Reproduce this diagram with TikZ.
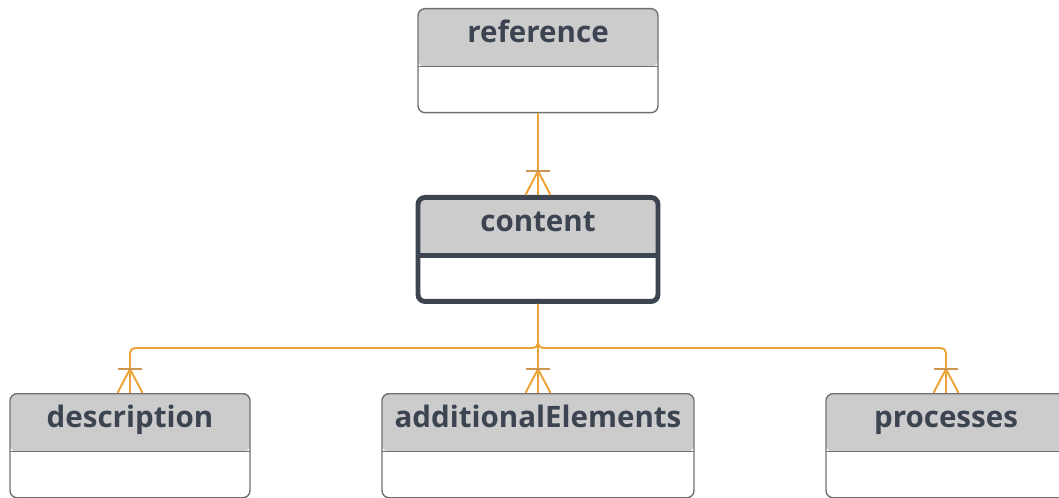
\documentclass[tikz,border=0pt]{standalone}
\usepackage{fontspec}
\setmainfont{Open Sans}
\usetikzlibrary{calc,positioning}
\definecolor{relorange}{RGB}{236,162,52}
\definecolor{barorange}{RGB}{205,150,80}
\definecolor{headgray}{RGB}{204,204,204}
\definecolor{edgegray}{RGB}{112,112,112}
\definecolor{inkslate}{RGB}{59,68,80}
\tikzset{
  sepline/.style={edgegray,line width=0.8pt},
  entity/.style={draw=edgegray, line width=0.8pt, fill=white, rounded corners=0.14cm,
    minimum width=4.8cm, inner sep=0pt, anchor=north,
    text height=0.68cm, text depth=1.4cm, text=inkslate,
    font=\bfseries\fontsize{16.8}{19}\selectfont,
    path picture={
      \fill[headgray] (path picture bounding box.north west) rectangle ([yshift=-1.16cm]path picture bounding box.north east);
      \draw[sepline] ([yshift=-1.16cm]path picture bounding box.north west) -- ([yshift=-1.16cm]path picture bounding box.north east);
    }},
  rel/.style={relorange, line width=1.1pt},
  crowfoot/.pic={
    \draw[rel] (-0.25,0) -- (0,0.48) -- (0.25,0);
    \draw[barorange, line width=1.1pt] (-0.24,0.48) -- (0.24,0.48);
  }
}
\begin{document}
\begin{tikzpicture}
\useasboundingbox (0,0) rectangle (21.18,-9.96);
% entities
\node[entity] (reference) at (10.76,-0.16) {reference};
\node[entity, draw=inkslate, line width=2.8pt, sepline/.style={inkslate,line width=2.8pt}] (content) at (10.76,-3.9) {content};
\node[entity] (description) at (2.6,-7.86) {description};
\node[entity, minimum width=6.24cm] (additional) at (10.76,-7.86) {additionalElements};
\node[entity] (processes) at (18.92,-7.86) {processes};
% relations
\coordinate (trunk) at (10.76,-6.96);
\draw[rel] (reference.south) -- (content.north);
\draw[rel, rounded corners=0.1cm] (content.south) -- (trunk) -| (description.north);
\draw[rel, rounded corners=0.1cm] (content.south) -- (trunk) -| (processes.north);
\draw[rel] (content.south) -- (additional.north);
\pic at (content.north) {crowfoot};
\pic at (description.north) {crowfoot};
\pic at (additional.north) {crowfoot};
\pic at (processes.north) {crowfoot};
\end{tikzpicture}
\end{document}
